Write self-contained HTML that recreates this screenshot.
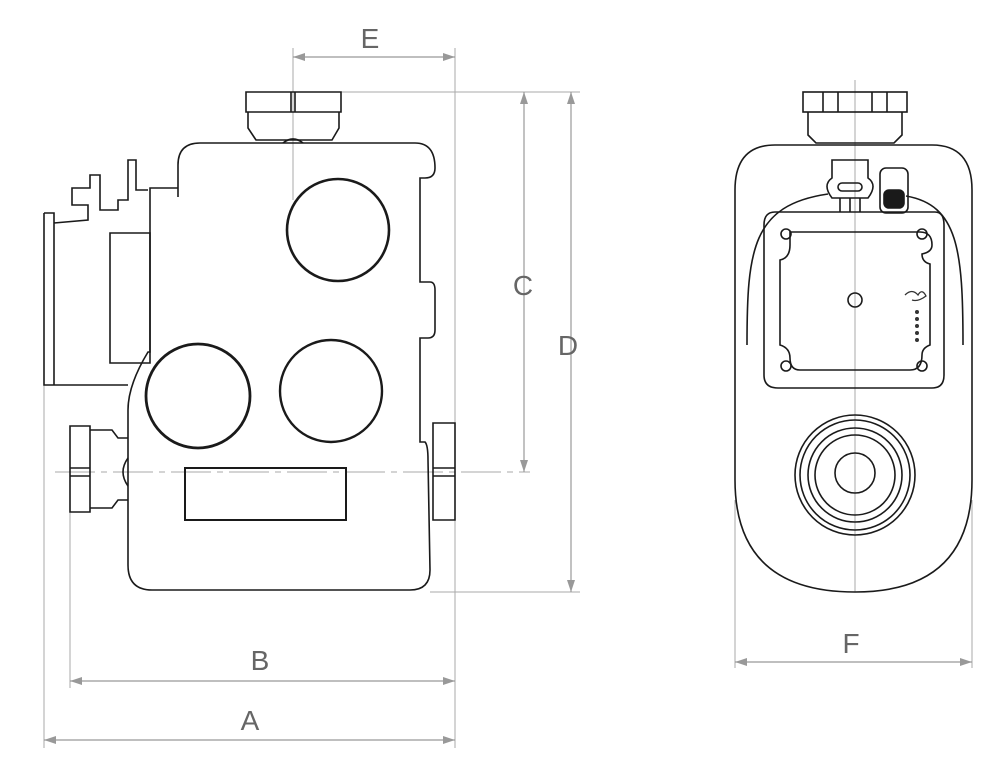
<!DOCTYPE html>
<html><head><style>html,body{margin:0;padding:0;background:#fff}svg{display:block}</style></head><body>
<svg width="1000" height="767" viewBox="0 0 1000 767" xmlns="http://www.w3.org/2000/svg">
<defs>
<marker id="ar" markerWidth="12" markerHeight="8" refX="12" refY="4" orient="auto-start-reverse" markerUnits="userSpaceOnUse"><path d="M0,0 L12,4 L0,8 Z" fill="#999"/></marker>
</defs>
<g stroke="#aaa" stroke-width="1" fill="none">
<line x1="293" y1="48" x2="293" y2="200"/>
<line x1="455" y1="48" x2="455" y2="748"/>
<line x1="340" y1="92" x2="580" y2="92"/>
<line x1="55" y1="472" x2="530" y2="472" stroke-dasharray="40,6,6,6"/>
<line x1="430" y1="592" x2="580" y2="592"/>
<line x1="70" y1="512" x2="70" y2="688"/>
<line x1="44" y1="385" x2="44" y2="748"/>
<line x1="735" y1="500" x2="735" y2="668"/>
<line x1="972" y1="500" x2="972" y2="668"/>
<line x1="855" y1="80" x2="855" y2="592"/>
</g>
<g stroke="#999" stroke-width="1.2" fill="none" marker-start="url(#ar)" marker-end="url(#ar)">
<line x1="293" y1="57" x2="455" y2="57"/>
<line x1="524" y1="92" x2="524" y2="472"/>
<line x1="571" y1="92" x2="571" y2="592"/>
<line x1="70" y1="681" x2="455" y2="681"/>
<line x1="44" y1="740" x2="455" y2="740"/>
<line x1="735" y1="662" x2="972" y2="662"/>
</g>
<g font-family="Liberation Sans, sans-serif" font-size="28" fill="#666" text-anchor="middle">
<text x="370" y="48">E</text>
<text x="523" y="295">C</text>
<text x="568" y="355">D</text>
<text x="260" y="670">B</text>
<text x="250" y="730">A</text>
<text x="851" y="653">F</text>
</g>
<g stroke="#1a1a1a" stroke-width="1.6" fill="none">
<path d="M178,197 L178,165 Q178,143 200,143 L415,143 Q435,143 435,168 Q435,178 425,178 L420,178 L420,282 L430,282 Q435,282 435,290 L435,330 Q435,338 428,338 L420,338 L420,442 L425,442 Q428,445 428,460 L430,570 Q430,590 410,590 L152,590 Q128,590 128,565 L128,410 Q128,385 148,352 L150,352 L150,188 L178,188"/>
<circle cx="338" cy="230" r="51" stroke-width="2.6"/>
<circle cx="198" cy="396" r="52" stroke-width="2.8"/>
<circle cx="331" cy="391" r="51" stroke-width="2.4"/>
<rect x="185" y="468" width="161" height="52" stroke-width="2"/>
<path d="M246,92 L341,92 L341,112 L246,112 Z M295,92 L295,112 M291,92 L291,112"/>
<path d="M248,112 L248,128 L256,140 L332,140 L339,128 L339,112"/>
<path d="M283,143 Q293,135 303,143"/>
<path d="M44,213 L44,385 L128,385 M44,213 L54,213 L54,385 M54,223 L88,220 L88,205 L72,205 L72,188 L90,188 L90,175 L100,175 L100,210 L118,210 L118,200 L128,200 L128,160 L136,160 L136,190 L148,190"/>
<path d="M110,233 L150,233 L150,363 L110,363 Z"/>
<path d="M70,426 L90,426 L90,512 L70,512 Z M90,430 L112,430 L118,438 L128,438 M90,508 L112,508 L118,500 L128,500 M70,468 L90,468 M70,476 L90,476"/>
<path d="M128,458 Q118,472 128,486"/>
<path d="M433,423 L455,423 L455,520 L433,520 Z M433,468 L455,468 M433,476 L455,476"/>
<path d="M775,145 L932,145 Q972,145 972,190 L972,480 Q972,592 855,592 Q735,592 735,480 L735,190 Q735,145 775,145 Z"/>
<path d="M808,112 L808,135 L816,143 L894,143 L902,135 L902,112"/>
<rect x="803" y="92" width="104" height="20"/>
<path d="M823,92 L823,112 M887,92 L887,112 M838,92 L838,112 M872,92 L872,112"/>
<path d="M747,345 C747,250 752,205 828,194 M963,345 C963,250 958,205 906,196"/>
<path d="M775,212 L935,212 Q944,212 944,225 L944,375 Q944,388 932,388 L778,388 Q764,388 764,375 L764,225 Q764,212 775,212 Z"/>
<path d="M790,232 L920,232 Q932,232 932,245 Q932,252 922,254 Q922,262 930,264 L930,345 Q922,348 922,355 Q922,370 910,370 L800,370 Q790,370 790,358 Q790,348 780,345 L780,260 Q790,258 790,245 Z"/>
<circle cx="786" cy="234" r="5"/><circle cx="922" cy="234" r="5"/>
<circle cx="786" cy="366" r="5"/><circle cx="922" cy="366" r="5"/>
<circle cx="855" cy="300" r="7"/>
<circle cx="855" cy="475" r="60"/><circle cx="855" cy="475" r="55"/>
<circle cx="855" cy="475" r="47"/><circle cx="855" cy="475" r="40"/>
<circle cx="855" cy="473" r="20"/>
<path d="M832,160 L868,160 L868,178 Q878,185 868,198 L832,198 Q822,185 832,178 Z"/>
<rect x="838" y="183" width="24" height="8" rx="4"/>
<path d="M840,198 L840,212 M850,198 L850,212 M860,198 L860,212"/>
<rect x="880" y="168" width="28" height="45" rx="6"/>
<rect x="884" y="190" width="20" height="18" rx="5" fill="#1a1a1a"/>
</g>
<g fill="#333">
<circle cx="917" cy="312" r="2"/><circle cx="917" cy="319" r="2"/><circle cx="917" cy="326" r="2"/><circle cx="917" cy="333" r="2"/><circle cx="917" cy="340" r="2"/>
</g>
<path d="M905,295 Q912,288 918,295 Q922,288 926,296 Q918,302 912,300" stroke="#333" fill="none" stroke-width="1.3"/>
</svg>
</body></html>
